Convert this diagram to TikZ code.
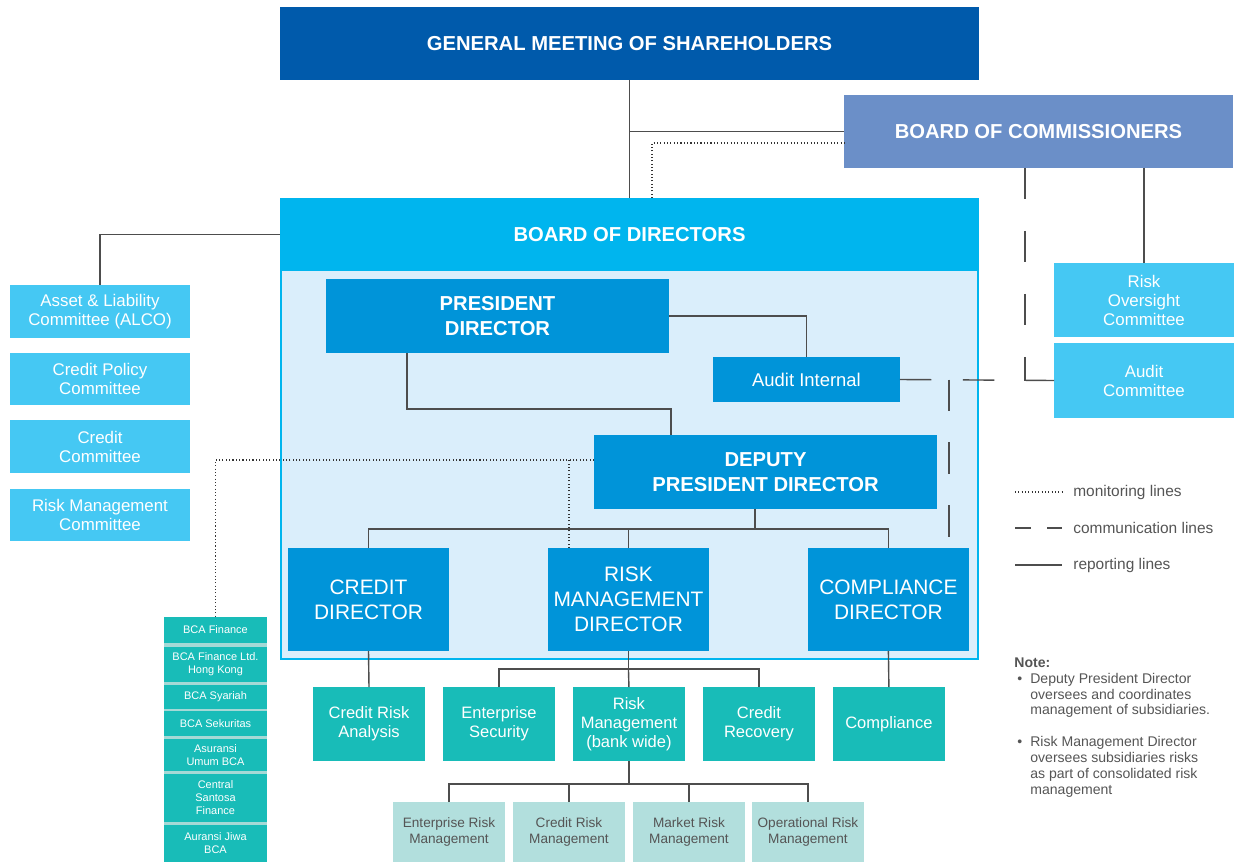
\documentclass[tikz,border=0pt]{standalone}
\usepackage{fontspec}
\setmainfont{Liberation Sans}
\usetikzlibrary{positioning}

\definecolor{gmsblue}{HTML}{005AAB}
\definecolor{bocblue}{HTML}{6B8FC8}
\definecolor{bodcyan}{HTML}{00B5EE}
\definecolor{bodbg}{HTML}{DAEEFB}
\definecolor{dirblue}{HTML}{0094D9}
\definecolor{comblue}{HTML}{45C8F3}
\definecolor{unitteal}{HTML}{18BCB8}
\definecolor{subteal}{HTML}{B2DFDD}
\definecolor{gapteal}{HTML}{A5D9D6}
\definecolor{linegray}{HTML}{4D4D4D}
\definecolor{textgray}{HTML}{555555}

\newcommand{\notebul}{\makebox[0.32cm][l]{\hspace{0.06cm}\textbullet}}
\newcommand{\noteind}{\hspace*{0.32cm}}

\begin{document}
\begin{tikzpicture}[x = 0.02cm, y = -0.02cm,
    box/.style = {inner sep=0pt, outer sep=0pt, align=center, text=white},
    headbox/.style = {box, font=\fontsize{11.5}{14.2}\selectfont\bfseries},
    dirbox/.style = {box, fill=dirblue, minimum width=3.22cm, minimum height=2.06cm, font=\fontsize{11.9}{14.2}\selectfont},
    combox/.style = {box, fill=comblue, minimum width=3.6cm, font=\fontsize{9.6}{10.8}\selectfont},
    unitbox/.style = {box, fill=unitteal, minimum width=2.24cm, minimum height=1.48cm, font=\fontsize{9.4}{10.8}\selectfont},
    subbox/.style = {box, fill=subteal, text=textgray, minimum width=2.24cm, minimum height=1.2cm, font=\fontsize{7.75}{8.6}\selectfont},
    firmbox/.style = {box, fill=unitteal, minimum width=2.06cm, font=\fontsize{6.25}{7.4}\selectfont},
    report/.style = {draw=linegray, line width=0.8pt},
    comm/.style = {draw=linegray, line width=0.8pt, dash pattern=on 0.63cm off 0.63cm},
    monitor/.style = {draw=black!80, line width=0.7pt, dash pattern=on 0.6pt off 1.3pt},
    legendtext/.style = {anchor=west, inner sep=0pt, text=textgray, font=\fontsize{8.8}{10}\selectfont}]
    \useasboundingbox (0,0) rectangle (1234,862);

    \draw[bodcyan, line width=1.1pt, fill=bodbg] (281,199) rectangle (978,659);

    \node[headbox, fill=gmsblue, minimum width=13.98cm, minimum height=1.46cm] (GMS) at (629.5,43.5) {GENERAL MEETING OF SHAREHOLDERS};
    \node[headbox, fill=bocblue, minimum width=7.78cm, minimum height=1.46cm] (BOC) at (1038.5,131.5) {BOARD OF COMMISSIONERS};
    \node[headbox, fill=bodcyan, minimum width=13.98cm, minimum height=1.46cm] (BOD) at (629.5,234.5) {BOARD OF DIRECTORS};

    \node[headbox, fill=dirblue, minimum width=6.86cm, minimum height=1.48cm] (PD) at (497.5,316) {PRESIDENT\\DIRECTOR};
    \node[box, fill=dirblue, minimum width=3.74cm, minimum height=0.9cm, font=\fontsize{10.5}{12}\selectfont] (AI) at (806.5,379.5) {Audit Internal};
    \node[headbox, fill=dirblue, minimum width=6.86cm, minimum height=1.48cm] (DPD) at (765.5,472) {DEPUTY\\PRESIDENT DIRECTOR};

    \node[dirbox] (CD) at (368.5,599.5) {CREDIT\\DIRECTOR};
    \node[dirbox, right = 1.98cm of CD] (RMD) {RISK\\MANAGEMENT\\DIRECTOR};
    \node[dirbox, right = 1.98cm of RMD] (CPD) {COMPLIANCE\\DIRECTOR};

    \node[combox, minimum height=1.48cm] (ROC) at (1144,300) {Risk\\Oversight\\Committee};
    \node[combox, minimum height=1.5cm] (AC) at (1144,380.5) {Audit\\Committee};

    \node[combox, minimum height=1.06cm] (ALCO) at (100,311.5) {Asset \& Liability\\Committee (ALCO)};
    \node[combox, minimum height=1.05cm, below = 0.3cm of ALCO] (CPC) {Credit Policy\\Committee};
    \node[combox, minimum height=1.05cm, below = 0.3cm of CPC] (CC) {Credit\\Committee};
    \node[combox, minimum height=1.05cm, below = 0.32cm of CC] (RMC) {Risk Management\\Committee};

    \fill[gapteal] (164,617) rectangle (267,862);
    \node[firmbox, minimum height=0.52cm] (F1) at (215.5,630) {BCA Finance};
    \node[firmbox, minimum height=0.7cm, below = 0.08cm of F1] (F2) {BCA Finance Ltd.\\Hong Kong};
    \node[firmbox, minimum height=0.48cm, below = 0.06cm of F2] (F3) {BCA Syariah};
    \node[firmbox, minimum height=0.5cm, below = 0.04cm of F3] (F4) {BCA Sekuritas};
    \node[firmbox, minimum height=0.64cm, below = 0.06cm of F4] (F5) {Asuransi\\Umum BCA};
    \node[firmbox, minimum height=0.96cm, below = 0.06cm of F5] (F6) {Central\\Santosa\\Finance};
    \node[firmbox, minimum height=0.74cm, below = 0.06cm of F6] (F7) {Auransi Jiwa\\BCA};

    \node[unitbox] (CRA) at (369,724) {Credit Risk\\Analysis};
    \node[unitbox, right = 0.36cm of CRA] (ES) {Enterprise\\Security};
    \node[unitbox, right = 0.36cm of ES] (RMBW) {Risk\\Management\\(bank wide)};
    \node[unitbox, right = 0.36cm of RMBW] (CRec) {Credit\\Recovery};
    \node[unitbox, right = 0.36cm of CRec] (COMP) {Compliance};

    \node[subbox] (ERM) at (449,832) {Enterprise Risk\\Management};
    \node[subbox, right = 0.16cm of ERM] (CRM) {Credit Risk\\Management};
    \node[subbox, right = 0.16cm of CRM] (MRM) {Market Risk\\Management};
    \node[subbox, right = 0.14cm of MRM] (ORM) {Operational Risk\\Management};

    \draw[report] (GMS.south) -- (BOD.north);
    \draw[report] (GMS.south |- BOC.west) -- (BOC.west);
    \draw[monitor] ([xshift=0.45cm]BOD.north) |- ([yshift=-0.23cm]BOC.west);
    \draw[report] (ROC.north |- BOC.south) -- (ROC.north);
    \draw[comm] ([xshift=-0.27cm]BOC.south) |- (AC.west);
    \draw[report] (BOD.west) -| (ALCO.north);

    \draw[report] (PD.east) -| (AI.north);
    \coordinate (pj) at (671,409);
    \draw[report] ([xshift=-1.81cm]PD.south) |- (pj) -- (pj |- DPD.north);
    \draw[comm] (AI.east) -- (AC.west);
    \draw[comm] ([xshift=1.21cm]CPD.north |- AI.east) -- ([xshift=1.21cm]CPD.north);

    \draw[report] ([xshift=-0.21cm]DPD.south) -- ++(0,20) coordinate (dj);
    \draw[report] (CD.north) |- (dj) -| (CPD.north);
    \draw[report] (RMD.north) -- (RMD.north |- dj);

    \coordinate (mon) at ([yshift=0.24cm]DPD.west);
    \draw[monitor] (mon) -| (F1.north);
    \draw[monitor] ([xshift=-1.19cm]RMD.north) -- ([xshift=-1.19cm]RMD.north |- mon);

    \draw[report] (CD.south) -- (CRA.north);
    \draw[report] (CPD.south) -- (COMP.north);
    \draw[report] (RMD.south) -- ++(0,18) coordinate (rj);
    \draw[report] (ES.north) |- (rj) -| (CRec.north);
    \draw[report] (RMBW.north) -- (rj);

    \draw[report] (RMBW.south) -- ++(0,23) coordinate (sj);
    \draw[report] (ERM.north) |- (sj) -| (ORM.north);
    \draw[report] (CRM.north) -- (CRM.north |- sj);
    \draw[report] (MRM.north) -- (MRM.north |- sj);

    \node[legendtext] (LM) at (1073,492) {monitoring lines};
    \node[legendtext] (LC) at (1073,528) {communication lines};
    \node[legendtext] (LR) at (1073,565) {reporting lines};
    \coordinate (LM0) at (1015,492);
    \coordinate (LC0) at (1015,528);
    \coordinate (LR0) at (1015,565);
    \draw[monitor, shorten >=0.22cm] (LM0) -- (LM.west);
    \draw[report, dash pattern=on 0.32cm off 0.32cm, shorten >=0.22cm] (LC0) -- (LC.west);
    \draw[report, shorten >=0.22cm] (LR0) -- (LR.west);

    \node[anchor=north west, inner sep=0pt, align=left, text=textgray, font=\fontsize{8}{9.1}\selectfont] (note) at (1014,657)
        {\textbf{Note:}\\
         \notebul Deputy President Director\\
         \noteind oversees and coordinates\\
         \noteind management of subsidiaries.\\[0.32cm]
         \notebul Risk Management Director\\
         \noteind oversees subsidiaries risks\\
         \noteind as part of consolidated risk\\
         \noteind management};
\end{tikzpicture}
\end{document}
